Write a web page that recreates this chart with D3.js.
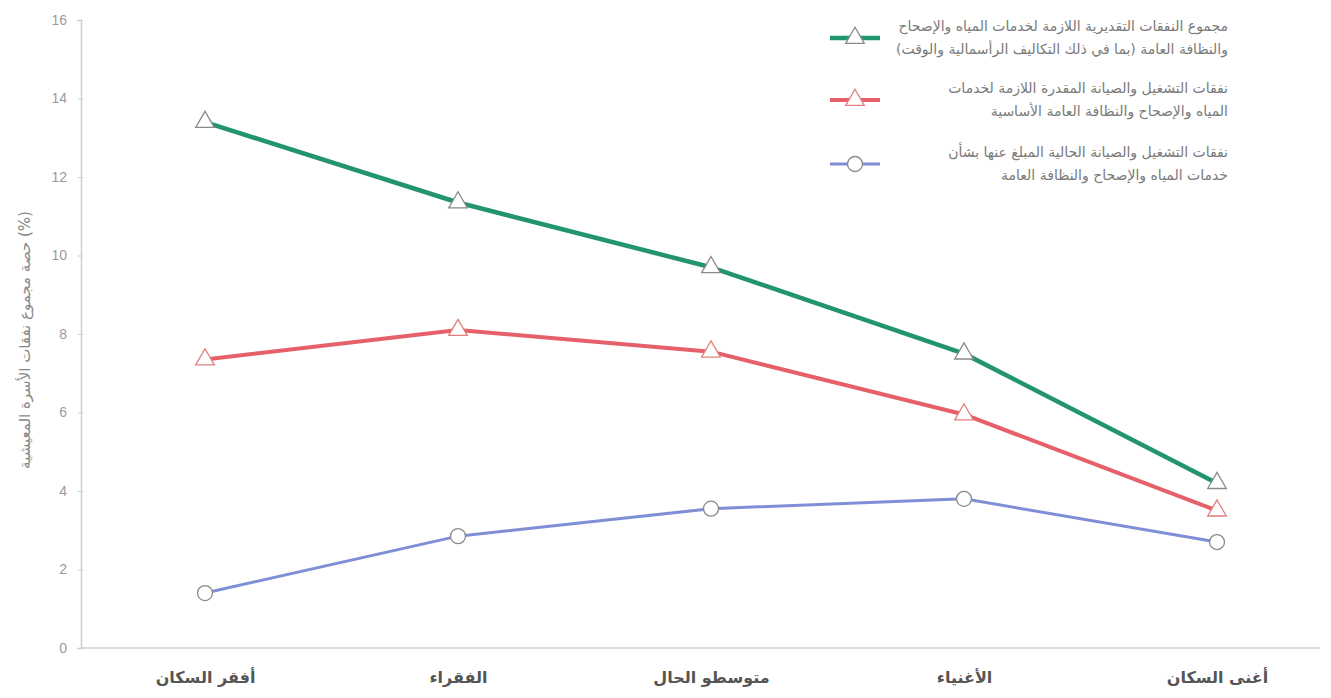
<!DOCTYPE html>
<html lang="ar">
<head>
<meta charset="utf-8">
<script src="https://cdn.jsdelivr.net/npm/d3@7/dist/d3.min.js"></script>
<style>
  html, body { margin: 0; padding: 0; background: #fff; }
  svg { display: block; font-family: "DejaVu Sans", "Noto Sans", sans-serif; }
</style>
</head>
<body>
<svg id="chart" width="1331" height="698"></svg>
<script>
// Household groups, poorest to richest
const categories = ["أفقر السكان", "الفقراء", "متوسطو الحال", "الأغنياء", "أغنى السكان"];

// Share of total household spending (%)
const totalCost = [13.4, 11.35, 9.7, 7.5, 4.2];
const requiredOM = [7.35, 8.1, 7.55, 5.95, 3.5];
const reportedOM = [1.4, 2.85, 3.55, 3.8, 2.7];

const yTicks = [0, 2, 4, 6, 8, 10, 12, 14, 16];

const seriesLabels = [
  ["مجموع النفقات التقديرية اللازمة لخدمات المياه والإصحاح", "والنظافة العامة (بما في ذلك التكاليف الرأسمالية والوقت)"],
  ["نفقات التشغيل والصيانة المقدرة اللازمة لخدمات", "المياه والإصحاح والنظافة العامة الأساسية"],
  ["نفقات التشغيل والصيانة الحالية المبلغ عنها بشأن", "خدمات المياه والإصحاح والنظافة العامة"]
];

const yAxisTitle = "حصة مجموع نفقات الأسرة المعيشية (%)";

const series = [
  { values: totalCost, color: "#22946f", marker: "triangle", stroke: "#8a8a8a", width: 4.5, label: seriesLabels[0] },
  { values: requiredOM, color: "#e6606a", marker: "triangle", stroke: "#e0807f", width: 4, label: seriesLabels[1] },
  { values: reportedOM, color: "#7f8fd6", marker: "circle", stroke: "#8a8a8a", width: 3, label: seriesLabels[2] }
];

const svg = d3.select("#chart");
const margin = { left: 81, right: 11, top: 20, bottom: 50 };
const W = 1331, H = 698;

const x = d3.scalePoint().domain(categories).range([205, 1217]);
const y = d3.scaleLinear().domain([0, 16]).range([H - margin.bottom, margin.top]);

// y axis
const yAxis = svg.append("g")
  .attr("transform", `translate(${margin.left},0)`)
  .call(d3.axisLeft(y).tickValues(yTicks).tickSize(4).tickPadding(10));
yAxis.select(".domain").attr("stroke", "#cfcfcf").attr("stroke-width", 1.5);
yAxis.selectAll(".tick line").attr("stroke", "#cfcfcf").attr("x2", 2).attr("x1", -3);
yAxis.selectAll(".tick text").attr("fill", "#9a9a9a").style("font-size", "14px")
  .style("font-family", "'Liberation Sans', Arial, sans-serif");

// x axis baseline
const xAxis = svg.append("g")
  .attr("transform", `translate(0,${y(0)})`)
  .call(d3.axisBottom(x).tickSize(0).tickPadding(24));
xAxis.select(".domain").attr("d", `M${margin.left},0H${W - margin.right}`)
  .attr("stroke", "#cfcfcf").attr("stroke-width", 1.5);
xAxis.selectAll(".tick text").attr("fill", "#555").style("font-size", "16px")
  .style("font-weight", "bold").style("font-family", "'DejaVu Sans', sans-serif");

// y axis title
svg.append("text")
  .attr("transform", `translate(30,340) rotate(-90)`)
  .attr("text-anchor", "middle")
  .attr("fill", "#888")
  .style("font-size", "15px")
  .text(yAxisTitle);

const line = d3.line().x((d, i) => x(categories[i])).y(d => y(d));
const tri = d3.symbol().type(d3.symbolTriangle).size(150);

function drawMarker(g, s, cx, cy) {
  if (s.marker === "triangle") {
    g.append("path").attr("d", tri()).attr("transform", `translate(${cx},${cy})`)
      .attr("fill", "#fff").attr("stroke", s.stroke).attr("stroke-width", 1.3);
  } else {
    g.append("circle").attr("cx", cx).attr("cy", cy).attr("r", 7.5)
      .attr("fill", "#fff").attr("stroke", s.stroke).attr("stroke-width", 1.3);
  }
}

series.forEach(s => {
  const g = svg.append("g");
  g.append("path").datum(s.values).attr("d", line)
    .attr("fill", "none").attr("stroke", s.color).attr("stroke-width", s.width)
    .attr("stroke-linejoin", "round");
  s.values.forEach((v, i) => drawMarker(g, s, x(categories[i]), y(v)));
});

// legend: right-aligned Arabic text beside each swatch
const legendY = [38, 100, 164];
series.forEach((s, i) => {
  const g = svg.append("g").attr("transform", `translate(0,${legendY[i]})`);
  g.append("line").attr("x1", 830).attr("x2", 880).attr("y1", 0).attr("y2", 0)
    .attr("stroke", s.color).attr("stroke-width", s.width);
  drawMarker(g, s, 855, 0);
  s.label.forEach((t, j) => {
    g.append("text").attr("x", 1228).attr("y", -7 + j * 23)
      .attr("text-anchor", "start").attr("direction", "rtl")
      .attr("fill", "#7a7a7a").style("font-size", "14px").text(t);
  });
});
</script>
</body>
</html>
